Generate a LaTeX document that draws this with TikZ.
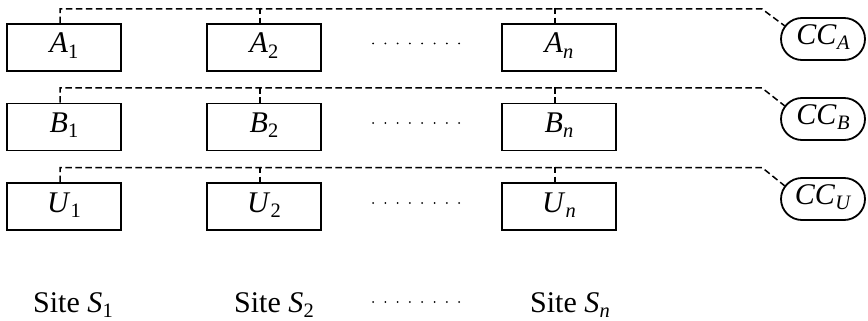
\documentclass[tikz,border=0pt]{standalone}
\usepackage{fontspec}
\setmainfont{Liberation Serif}
\usetikzlibrary{shapes.misc,calc}
\newcommand{\vsub}[2]{\textit{#1}\kern0.01em\raisebox{-5.2pt}{\fontsize{20.5}{21}\selectfont #2}}
\begin{document}
\begin{tikzpicture}[x=1pt,y=-1pt,
  every node/.style={font=\fontsize{30}{34}\selectfont},
  unitbox/.style={draw,line width=1.8pt,minimum width=114pt,minimum height=47pt,inner sep=0pt,text height=20pt,text depth=9pt},
  ccbox/.style={draw,line width=1.8pt,rounded rectangle,minimum width=88pt,minimum height=42pt,inner sep=2pt,text height=20pt,text depth=9pt},
  link/.style={dash pattern=on 6.5pt off 3.5pt,line width=1.5pt},
  dotmark/.style={fill=black}
]
\useasboundingbox (0,0) rectangle (868,321);

% unit boxes
\node[unitbox] (a1) at (64,47.5)  {\vsub{A}{1}};
\node[unitbox] (a2) at (264,47.5) {\vsub{A}{2}};
\node[unitbox] (an) at (559,47.5) {\vsub{A}{\textit{n}}};
\node[unitbox] (b1) at (64,127)  {\vsub{B}{1}};
\node[unitbox] (b2) at (264,127) {\vsub{B}{2}};
\node[unitbox] (bn) at (559,127) {\vsub{B}{\textit{n}}};
\node[unitbox] (u1) at (64,206.5)  {\vsub{U}{1}};
\node[unitbox] (u2) at (264,206.5) {\vsub{U}{2}};
\node[unitbox] (un) at (559,206.5) {\vsub{U}{\textit{n}}};

% concurrency controllers
\node[ccbox] (cca) at (823,39)  {\vsub{CC}{\textit{A}}};
\node[ccbox] (ccb) at (823,119) {\vsub{CC}{\textit{B}}};
\node[ccbox] (ccu) at (823,199) {\vsub{CC}{\textit{U}}};

% bend points of the dashed links
\coordinate (ka) at (762,9);
\coordinate (kb) at (762,88);
\coordinate (ku) at (762,167.5);

% dashed links
\draw[link] ($(a1.north)+(-4,0)$) |- (ka) -- (cca.161);
\draw[link] ($(b1.north)+(-4,0)$) |- (kb) -- (ccb.161);
\draw[link] ($(u1.north)+(-4,0)$) |- (ku) -- (ccu.161);
\foreach \n in {a2,an,b2,bn,u2,un}
  \draw[link] ($(\n.north)+(-4,-15.5)$) -- ($(\n.north)+(-4,0)$);

% dots
\foreach \y in {43.5,123,203,302}
  \foreach \i in {0,...,7}
    \fill[dotmark] (373+\i*12.3,\y) circle (1pt);

% site labels
\node[anchor=base] (s1) at (73,312)  {Site \vsub{S}{1}};
\node[anchor=base] (s2) at (274,312) {Site \vsub{S}{2}};
\node[anchor=base] (sn) at (570,312) {Site \vsub{S}{\textit{n}}};
\end{tikzpicture}
\end{document}
